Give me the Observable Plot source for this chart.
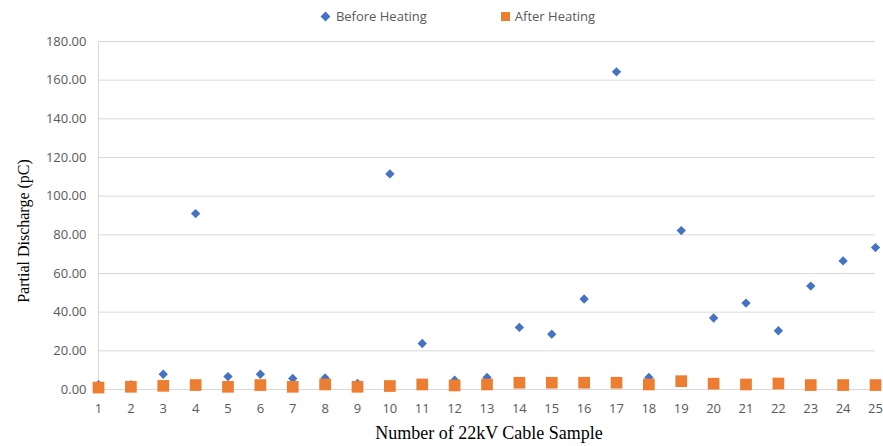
<!DOCTYPE html>
<html>
<head>
<meta charset="utf-8">
<script src="https://cdn.jsdelivr.net/npm/d3@7"></script>
<script src="https://cdn.jsdelivr.net/npm/@observablehq/plot@0.6"></script>
<style>
  body { margin: 0; background: #fff; }
  #wrap { width: 883px; height: 446px; position: relative; overflow: hidden; }
  #legend { height: 32px; display: flex; justify-content: center; align-items: center; gap: 74px;
    padding-left: 34px; box-sizing: border-box; font-family: "Open Sans", sans-serif; font-size: 13px; color: #595959; }
  .item { display: flex; align-items: center; gap: 5px; }
  .dia { width: 7px; height: 7px; background: #4472C4; transform: rotate(45deg); margin-right: 2px; }
  .sq { width: 9px; height: 9px; background: #ED7D31; }
</style>
</head>
<body>
<div id="wrap">
  <div id="legend"></div>
  <div id="chart"></div>
</div>
<script>
const samples = d3.range(1, 26);
const beforeHeating = [2.5, 2.5, 7.9, 91.0, 6.7, 7.9, 5.7, 6.0, 3.1, 111.5, 23.8, 4.8, 6.2, 32.1, 28.6, 46.8, 164.3, 6.2, 82.2, 37.0, 44.7, 30.4, 53.5, 66.5, 73.4];
const afterHeating = [1.0, 1.4, 1.9, 2.3, 1.4, 2.3, 1.4, 2.6, 1.4, 1.8, 2.6, 2.1, 2.6, 3.5, 3.5, 3.5, 3.5, 2.6, 4.3, 3.0, 2.6, 3.1, 2.3, 2.3, 2.3];
const seriesNames = ["Before Heating", "After Heating"];
const yTicks = [0, 20, 40, 60, 80, 100, 120, 140, 160, 180];

const before = samples.map((s, i) => ({sample: s, value: beforeHeating[i]}));
const after = samples.map((s, i) => ({sample: s, value: afterHeating[i]}));

const legend = document.getElementById("legend");
legend.innerHTML = `<div class="item"><span class="dia"></span><span>${seriesNames[0]}</span></div>` +
                   `<div class="item"><span class="sq"></span><span>${seriesNames[1]}</span></div>`;

const chart = Plot.plot({
  width: 883,
  height: 414,
  marginTop: 9,
  marginBottom: 57,
  marginLeft: 98,
  marginRight: 8,
  style: { fontFamily: "Open Sans, sans-serif", fontSize: "13px", color: "#595959", background: "#fff" },
  x: { domain: [1, 25], ticks: samples, tickFormat: d => String(d), tickSize: 0, tickPadding: 14, label: null },
  y: { domain: [0, 180], ticks: yTicks, tickFormat: d3.format(".2f"), tickSize: 0, tickPadding: 12, label: null },
  marks: [
    Plot.gridY(yTicks, { stroke: "#d9d9d9", strokeOpacity: 1, strokeWidth: 1 }),
    Plot.ruleX([1], { stroke: "#d9d9d9", strokeWidth: 1 }),
    Plot.axisX({ ticks: samples, tickFormat: d => String(d), tickSize: 0, tickPadding: 14, fill: "#595959", style: "letter-spacing: 2px" }),
    Plot.axisY({ ticks: yTicks, tickFormat: d3.format(".2f"), tickSize: 0, tickPadding: 12, fill: "#595959" }),
    Plot.dot(before, { x: "sample", y: "value", symbol: "diamond2", r: 4.2, fill: "#4472C4", stroke: "none" }),
    Plot.dot(after, { x: "sample", y: "value", symbol: "square", r: 6.6, fill: "#ED7D31", stroke: "none" })
  ]
});

const svg = d3.select(chart);
svg.append("text")
  .attr("x", 489).attr("y", 407)
  .attr("text-anchor", "middle")
  .style("font-family", "Liberation Serif, serif").style("font-size", "18px").style("fill", "#000")
  .text("Number of 22kV Cable Sample");
svg.append("text")
  .attr("transform", "translate(29,199) rotate(-90)")
  .attr("text-anchor", "middle")
  .style("font-family", "Liberation Serif, serif").style("font-size", "16px").style("fill", "#000")
  .text("Partial Discharge (pC)");

document.getElementById("chart").appendChild(chart);
</script>
</body>
</html>
